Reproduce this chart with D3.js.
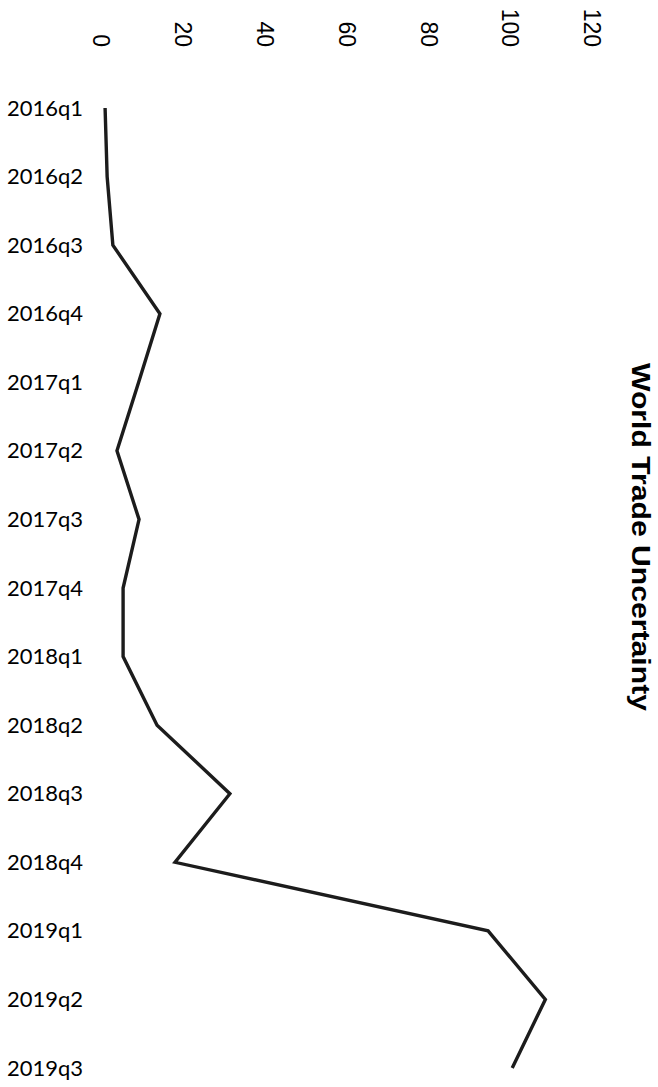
<!DOCTYPE html>
<html>
<head>
<meta charset="utf-8">
<script src="https://cdn.jsdelivr.net/npm/d3@7/dist/d3.min.js"></script>
<style>
  html, body { margin: 0; padding: 0; background: #fff; }
  svg { display: block; }
</style>
</head>
<body>
<svg id="chart" width="658" height="1087"></svg>
<script>
const categories = ["2016q1","2016q2","2016q3","2016q4","2017q1","2017q2","2017q3","2017q4",
                    "2018q1","2018q2","2018q3","2018q4","2019q1","2019q2","2019q3"];
const uncertainty = [1.0, 1.5, 2.9, 14.4, 9.2, 3.9, 9.3, 5.4, 5.4, 13.7, 31.5, 18.1, 94.6, 108.6, 100.5];
const valueTicks = [0, 20, 40, 60, 80, 100, 120];
const chartTitle = "World Trade Uncertainty";

const svg = d3.select("#chart");

const x = d3.scaleLinear().domain([0, 120]).range([101, 592]);
const y = d3.scalePoint().domain(categories).range([108, 1068]);

// value axis (rotated labels along the top)
const xAxis = d3.axisTop(x).tickValues(valueTicks).tickSize(0).tickFormat(d3.format("d"));
const gx = svg.append("g").attr("transform", "translate(0,0)").call(xAxis);
gx.select(".domain").remove();
gx.selectAll(".tick line").remove();
gx.selectAll(".tick text")
  .attr("x", 0).attr("y", 0).attr("dy", null)
  .attr("text-anchor", "end")
  .attr("fill", "#000")
  .style("font-family", "'Liberation Sans', Arial, sans-serif")
  .style("font-size", "23px")
  .attr("transform", "translate(-8.3,47) rotate(90)");

// category labels along the left
const gy = svg.append("g");
gy.selectAll("text").data(categories).join("text")
  .attr("x", 7)
  .attr("y", d => y(d) + 7.5)
  .attr("textLength", 76)
  .attr("lengthAdjust", "spacingAndGlyphs")
  .attr("fill", "#000")
  .style("font-family", "Lato, 'Open Sans', sans-serif")
  .style("font-size", "21px")
  .text(d => d);

// line
const line = d3.line()
  .x((d, i) => x(d))
  .y((d, i) => y(categories[i]));

svg.append("path")
  .datum(uncertainty)
  .attr("d", line)
  .attr("fill", "none")
  .attr("stroke", "#1c1c1c")
  .attr("stroke-width", 3.4)
  .attr("stroke-linejoin", "miter")
  .attr("stroke-linecap", "butt");

// title (rotated, right side)
svg.append("text")
  .attr("transform", "translate(632,537) rotate(90)")
  .attr("text-anchor", "middle")
  .attr("textLength", 348)
  .attr("lengthAdjust", "spacingAndGlyphs")
  .attr("fill", "#000")
  .style("font-family", "'Liberation Sans', Arial, sans-serif")
  .style("font-weight", "bold")
  .style("font-size", "25px")
  .text(chartTitle);
</script>
</body>
</html>
